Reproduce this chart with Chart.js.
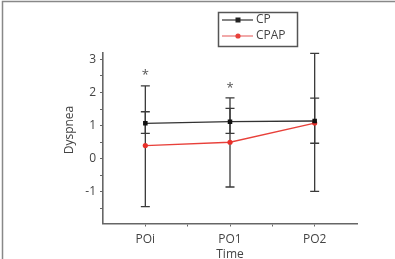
<!DOCTYPE html>
<html>
<head>
<meta charset="utf-8">
<script src="https://cdn.jsdelivr.net/npm/chart.js@4"></script>
<style>
  html, body { margin: 0; padding: 0; background: #fff; }
  canvas { display: block; }
</style>
</head>
<body>
<canvas id="chart" width="395" height="259"></canvas>
<script>
// categories and values
const timePoints = ['POi', 'PO1', 'PO2'];
const cpMean = [1.07, 1.12, 1.14];
const cpLow = [0.77, 0.77, 0.47];
const cpHigh = [1.42, 1.52, 1.83];
const cpapMean = [0.40, 0.50, 1.08];
const cpapLow = [-1.44, -0.85, -0.98];
const cpapHigh = [2.20, 1.84, 3.18];
const starY = [2.58, 2.2, null]; // significance marks
const yTickValues = [-1.5, -1, -0.5, 0, 0.5, 1, 1.5, 2, 2.5, 3];
const xTickValues = [0, 0.5, 1, 1.5, 2];

const FONT = "'Open Sans', 'DejaVu Sans', sans-serif";
const TEXT = '#444';
const AXIS = '#666';

const toPoints = arr => arr.map((v, i) => ({ x: i, y: v }));

// error bars + asterisks, drawn from the arrays through the scales
const errorBars = {
  id: 'errorBars',
  beforeDatasetsDraw(chart) {
    const { ctx, scales: { x, y } } = chart;
    ctx.save();
    ctx.strokeStyle = '#3a3a3a';
    ctx.lineWidth = 1.3;
    const bars = [[cpLow, cpHigh], [cpapLow, cpapHigh]];
    bars.forEach(([lo, hi]) => {
      lo.forEach((v, i) => {
        const px = x.getPixelForValue(i);
        const y1 = y.getPixelForValue(v);
        const y2 = y.getPixelForValue(hi[i]);
        ctx.beginPath();
        ctx.moveTo(px, y1); ctx.lineTo(px, y2);
        ctx.moveTo(px - 4.5, y1); ctx.lineTo(px + 4.5, y1);
        ctx.moveTo(px - 4.5, y2); ctx.lineTo(px + 4.5, y2);
        ctx.stroke();
      });
    });
    ctx.fillStyle = '#555';
    ctx.font = '13px ' + FONT;
    ctx.textAlign = 'center';
    ctx.textBaseline = 'middle';
    starY.forEach((v, i) => {
      if (v == null) return;
      ctx.fillText('*', x.getPixelForValue(i), y.getPixelForValue(v) + 2);
    });
    ctx.restore();
  }
};

// frame, axis titles and boxed legend
const decor = {
  id: 'decor',
  afterDraw(chart) {
    const { ctx } = chart;
    ctx.save();
    ctx.strokeStyle = '#888';
    ctx.lineWidth = 1.5;
    ctx.beginPath();
    ctx.moveTo(2.5, 259); ctx.lineTo(2.5, 1.5); ctx.lineTo(395, 1.5);
    ctx.stroke();

    ctx.fillStyle = TEXT;
    ctx.font = '12px ' + FONT;
    ctx.textAlign = 'center';
    ctx.textBaseline = 'middle';
    ctx.fillText('Time', 230, 254.5);
    ctx.translate(70, 130);
    ctx.rotate(-Math.PI / 2);
    ctx.fillText('Dyspnea', 0, 0);
    ctx.restore();

    ctx.save();
    ctx.strokeStyle = '#555';
    ctx.lineWidth = 1.5;
    ctx.strokeRect(218.5, 12.5, 79, 34);
    const items = [
      { label: 'CP', color: '#222', marker: 'square', y: 20 },
      { label: 'CPAP', color: '#e8403a', marker: 'circle', y: 36 }
    ];
    ctx.font = '12px ' + FONT;
    ctx.textBaseline = 'middle';
    ctx.textAlign = 'left';
    items.forEach(it => {
      ctx.strokeStyle = it.label === 'CP' ? '#333' : '#e87070';
      ctx.lineWidth = 1.2;
      ctx.beginPath();
      ctx.moveTo(222, it.y); ctx.lineTo(253, it.y);
      ctx.stroke();
      ctx.fillStyle = it.color;
      if (it.marker === 'square') {
        ctx.fillRect(235.5, it.y - 2.5, 5, 5);
      } else {
        ctx.beginPath();
        ctx.arc(238, it.y, 2.6, 0, Math.PI * 2);
        ctx.fill();
      }
      ctx.fillStyle = TEXT;
      ctx.fillText(it.label, 256, it.y);
    });
    ctx.restore();
  }
};

new Chart(document.getElementById('chart'), {
  type: 'line',
  data: {
    datasets: [
      {
        label: 'CP',
        data: toPoints(cpMean),
        borderColor: '#333',
        backgroundColor: '#111',
        borderWidth: 1.3,
        pointStyle: 'rect',
        pointRadius: 3.2,
        pointBorderWidth: 0,
        fill: false
      },
      {
        label: 'CPAP',
        data: toPoints(cpapMean),
        borderColor: '#e8403a',
        backgroundColor: '#e8302a',
        borderWidth: 1.3,
        pointStyle: 'circle',
        pointRadius: 2.6,
        pointBorderWidth: 0,
        fill: false
      }
    ]
  },
  options: {
    responsive: false,
    animation: false,
    devicePixelRatio: 1,
    layout: { padding: { top: 52.7, right: 38, left: 0, bottom: 0 } },
    plugins: { legend: { display: false }, tooltip: { enabled: false } },
    scales: {
      x: {
        type: 'linear',
        min: -0.5,
        max: 2.5,
        afterFit: s => { s.height = 35.5; },
        afterBuildTicks: s => { s.ticks = xTickValues.map(v => ({ value: v })); },
        border: { color: AXIS, width: 1.6 },
        grid: { drawOnChartArea: false, color: AXIS, tickLength: 3 },
        ticks: {
          color: TEXT,
          font: { family: FONT, size: 12 },
          padding: 6,
          maxRotation: 0,
          autoSkip: false,
          callback: v => Number.isInteger(v) ? timePoints[v] : ''
        }
      },
      y: {
        min: -1.95,
        max: 3.2,
        afterFit: s => { s.width = 103; },
        afterBuildTicks: s => { s.ticks = yTickValues.map(v => ({ value: v })); },
        border: { color: AXIS, width: 1.6 },
        grid: { drawOnChartArea: false, color: AXIS, tickLength: 3 },
        ticks: {
          color: TEXT,
          font: { family: FONT, size: 12 },
          padding: 4,
          autoSkip: false,
          callback: v => Number.isInteger(v) ? String(v) : ''
        }
      }
    }
  },
  plugins: [errorBars, decor]
});
</script>
</body>
</html>
